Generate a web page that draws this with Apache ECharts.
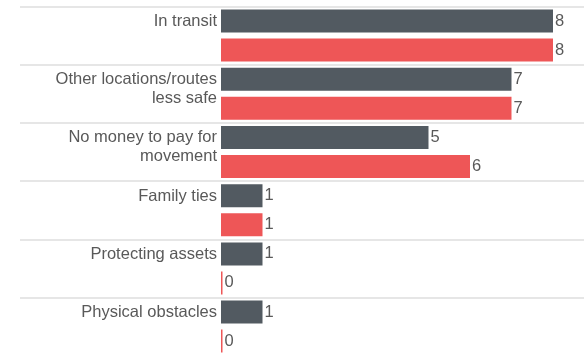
<!DOCTYPE html>
<html>
<head>
<meta charset="utf-8">
<script src="https://cdn.jsdelivr.net/npm/echarts@6/dist/echarts.min.js"></script>
<style>
  html, body { margin: 0; padding: 0; background: #fff; }
  #chart { width: 584px; height: 353px; }
</style>
</head>
<body>
<div id="chart"></div>
<script>
// Reasons listed top to bottom
const categories = [
  'In transit',
  'Other locations/routes\nless safe',
  'No money to pay for\nmovement',
  'Family ties',
  'Protecting assets',
  'Physical obstacles'
];
const seriesDark = [8, 7, 5, 1, 1, 1];
const seriesRed = [8, 7, 6, 1, 0, 0];

const textColor = '#595959';
const fontFamily = '"Liberation Sans", Arial, sans-serif';

const valueLabel = {
  show: true,
  position: 'right',
  distance: 2,
  color: textColor,
  fontFamily: fontFamily,
  fontSize: 16.5
};

const chart = echarts.init(document.getElementById('chart'), null, { renderer: 'canvas' });
chart.setOption({
  animation: false,
  // the grid spans the label column too, so the row separators run full width
  grid: {
    left: 20, right: 0, top: 6.5, height: 349.2,
    containLabel: false,
    outerBoundsMode: 'none'
  },
  xAxis: {
    type: 'value',
    min: -4.8434,
    max: 8.747,
    show: false
  },
  yAxis: {
    type: 'category',
    inverse: true,
    data: categories,
    // shift the axis right onto the bars' base (value 0)
    offset: -201,
    axisLine: { show: false },
    axisTick: { show: false },
    axisLabel: {
      margin: 4,
      color: textColor,
      fontFamily: fontFamily,
      fontSize: 16.5,
      lineHeight: 19,
      align: 'right',
      verticalAlign: 'top',
      padding: [-23.6, 0, 0, 0]
    },
    splitLine: { show: true, lineStyle: { color: '#e6e6e6', width: 2 } }
  },
  series: [
    {
      name: 'Series 1',
      type: 'bar',
      data: seriesDark,
      barGap: '26%',
      barCategoryGap: '10.65%',
      barMinHeight: 1.5,
      itemStyle: { color: '#525a61' },
      label: valueLabel
    },
    {
      name: 'Series 2',
      type: 'bar',
      data: seriesRed,
      barGap: '26%',
      barCategoryGap: '10.65%',
      barMinHeight: 1.5,
      itemStyle: { color: '#ee5657' },
      label: valueLabel
    }
  ]
});
</script>
</body>
</html>
